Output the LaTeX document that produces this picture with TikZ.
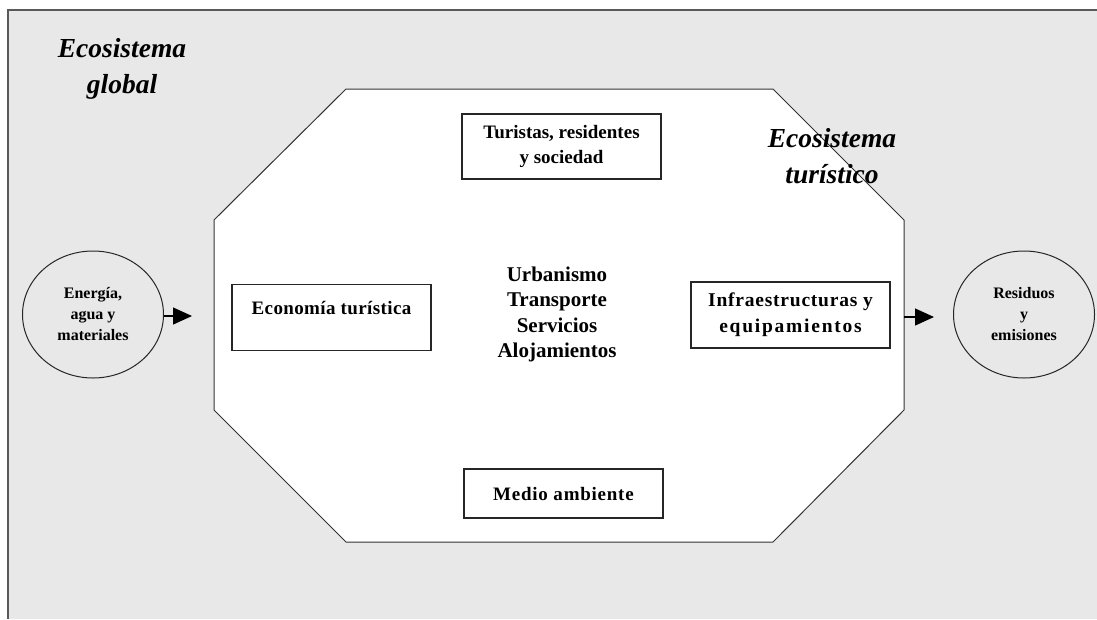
\documentclass[tikz,border=0pt]{standalone}
\usepackage{fontspec}
\setmainfont{Liberation Serif}
\usetikzlibrary{arrows.meta,shapes.geometric}
\definecolor{fondo}{HTML}{E8E8E8}
\newcommand{\espacio}[1]{\addfontfeature{LetterSpace=#1}}
\begin{document}
\begin{tikzpicture}[x=1pt, y=-1pt,
  caja/.style = {shape=rectangle, draw=black!85, line width=1.2pt, fill=white,
    align=center, minimum width=199pt, inner sep=0pt,
    font=\fontsize{19}{25}\selectfont\bfseries},
  circulo/.style = {shape=ellipse, draw=black!85, line width=1pt, align=center,
    minimum width=141pt, minimum height=127pt, inner sep=0pt,
    font=\fontsize{16}{21}\selectfont\bfseries},
  titulo/.style = {align=center, inner sep=0pt, anchor=north,
    font=\fontsize{27.5}{36}\selectfont\bfseries\itshape},
  flecha/.style = {line width=1.2pt, -{Triangle[length=19pt,width=17pt]}}]
  \useasboundingbox (0,0) rectangle (1097,619);
  \fill[fondo] (8,10) rectangle (1097,619);
  \draw[gray!70!black, line width=1.5pt] (1097,10) -- (8,10) -- (8,619);
  \draw[fill=white, draw=black!80, line width=1pt] (346,89) -- (773,89) -- (904,220)
    -- (904,410) -- (773,542) -- (346,542) -- (214,410) -- (214,220) -- cycle;
  \node[titulo] (global) at (122,38) {Ecosistema\\global};
  \node[titulo] (turistico) at (832,128) {Ecosistema\\turístico};
  \node[caja, minimum height=65pt] (turistas) at (561.5,146.5) {Turistas, residentes\\y sociedad};
  \node[caja, anchor=north, text height=30pt, text depth=36pt] (economia) at (331.5,284) {\espacio{2}Economía turística};
  \node[caja, minimum height=66pt, font=\fontsize{19.5}{26}\selectfont\bfseries] (infra) at (790.5,315)
    {{\espacio{4}Infraestructuras y}\\{\espacio{9}equipamientos}};
  \node[caja, minimum height=49pt] (medio) at (563.5,493.5) {\espacio{4}Medio ambiente};
  \node[align=center, font=\fontsize{21}{25.5}\selectfont\bfseries] (usos) at (557,314.5) {Urbanismo\\Transporte\\Servicios\\Alojamientos};
  \node[circulo] (entrada) at (93,314.5) {Energía,\\agua y\\materiales};
  \node[circulo] (salida) at (1024,314.5) {Residuos\\y\\emisiones};
  \coordinate (inL) at (192,316);
  \coordinate (octE) at (904,317);
  \coordinate (outR) at (934,317);
  \draw[flecha] (entrada.east |- inL) -- (inL);
  \draw[flecha] (octE) -- (outR);
\end{tikzpicture}
\end{document}
